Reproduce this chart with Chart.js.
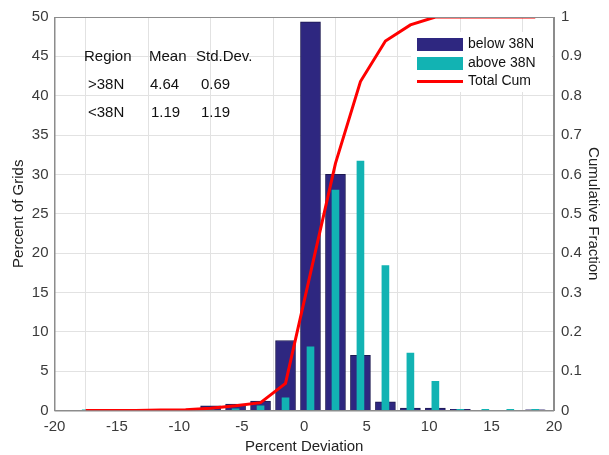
<!DOCTYPE html>
<html>
<head>
<meta charset="utf-8">
<script src="https://cdn.jsdelivr.net/npm/chart.js@4.4.0/dist/chart.umd.min.js"></script>
<style>
  html, body { margin: 0; padding: 0; background: #fff; }
  #wrap { width: 609px; height: 455px; position: relative; }
</style>
</head>
<body>
<div id="wrap"><canvas id="histChart" width="609" height="455"></canvas></div>
<script>
// Bin centres (percent deviation), 2-unit bins
const binCenters = [-19.5, -17.5, -15.5, -13.5, -11.5, -9.5, -7.5, -5.5, -3.5, -1.5,
                    0.5, 2.5, 4.5, 6.5, 8.5, 10.5, 12.5, 14.5, 16.5, 18.5];

// Percent of grids per bin
const below38N = [null, null, null, null, null, null, 0.6, 0.8, 1.2, 8.9,
                  49.4, 30.0, 7.0, 1.1, 0.3, 0.3, 0.15, null, null, 0.1];
const above38N = [null, 0.1, null, null, null, null, 0.1, 0.2, 0.6, 1.6,
                  8.1, 28.0, 31.7, 18.4, 7.3, 3.7, 0.15, 0.15, 0.15, 0.15];

// Total cumulative fraction
const cumX = [-17.5, -15.5, -13.5, -11.5, -9.5, -7.5, -5.5, -3.5, -1.5,
              0.5, 2.5, 4.5, 6.5, 8.5, 10.5, 12.5, 14.5, 16.5, 18.5];
const totalCum = [0, 0, 0, 0.001, 0.002, 0.006, 0.012, 0.02, 0.069,
                  0.349, 0.628, 0.836, 0.939, 0.98, 1.0, 1.0, 1.0, 1.0, 1.0];

const xTicks = [-20, -15, -10, -5, 0, 5, 10, 15, 20];

// Stats table text
const tableRows = [
    ['Region', 'Mean', 'Std.Dev.'],
    ['>38N', '4.64', '0.69'],
    ['<38N', '1.19', '1.19']
];

const FONT = "'Liberation Sans', Arial, Helvetica, sans-serif";
const gridColor = '#e2e2e2';
const axisColor = '#8c8c8c';
const tickColor = '#3a3a3a';

// Box around the plot + stats table + legend
const decorPlugin = {
    id: 'decor',
    afterDraw(chart) {
        const ctx = chart.ctx;
        const a = chart.chartArea;
        ctx.save();
        ctx.strokeStyle = axisColor;
        ctx.lineWidth = 1;
        ctx.strokeRect(a.left + 0.5, a.top + 0.5, a.right - a.left - 1, a.bottom - a.top);

        // stats table
        ctx.fillStyle = '#111';
        ctx.font = '15px ' + FONT;
        ctx.textBaseline = 'middle';
        const colX = [[84, 88, 88], [149, 150, 151], [196, 201, 201]];
        const rowY = [57, 85, 113];
        tableRows.forEach((row, r) => {
            row.forEach((txt, c) => ctx.fillText(txt, colX[c][r], rowY[r]));
        });

        // legend
        ctx.fillStyle = '#fff';
        ctx.fillRect(411, 32, 141, 60);
        const ys = [44.5, 63.5, 81.5];
        chart.data.datasets.forEach((ds) => {
            const y = ys[ds.legendOrder];
            if (ds.type === 'line') {
                ctx.strokeStyle = ds.borderColor;
                ctx.lineWidth = 3;
                ctx.beginPath();
                ctx.moveTo(417, y);
                ctx.lineTo(463, y);
                ctx.stroke();
            } else {
                ctx.fillStyle = ds.backgroundColor;
                ctx.fillRect(417, y - 6.5, 46, 13);
            }
            ctx.fillStyle = '#111';
            ctx.font = '14px ' + FONT;
            ctx.fillText(ds.label, 468, y);
        });
        ctx.restore();
    }
};

const ctx = document.getElementById('histChart').getContext('2d');
new Chart(ctx, {
    type: 'bar',
    data: {
        datasets: [
            {
                label: 'below 38N',
                legendOrder: 0,
                data: binCenters.map((x, i) => ({ x: x, y: below38N[i] })),
                backgroundColor: '#2e2780',
                borderColor: '#1c1850',
                borderWidth: 1,
                barThickness: 20,
                yAxisID: 'y',
                order: 3
            },
            {
                label: 'above 38N',
                legendOrder: 1,
                data: binCenters.map((x, i) => ({ x: x, y: above38N[i] })),
                backgroundColor: '#12b3b3',
                borderWidth: 0,
                barThickness: 7,
                yAxisID: 'y',
                order: 2
            },
            {
                type: 'line',
                label: 'Total Cum',
                legendOrder: 2,
                data: cumX.map((x, i) => ({ x: x, y: totalCum[i] })),
                borderColor: '#ff0000',
                borderWidth: 3,
                pointRadius: 0,
                tension: 0,
                fill: false,
                yAxisID: 'y1',
                order: 1
            }
        ]
    },
    options: {
        responsive: false,
        animation: false,
        grouped: false,
        layout: { padding: { top: 17, left: 0, right: 0, bottom: 0 } },
        plugins: {
            legend: { display: false },
            tooltip: { enabled: false }
        },
        scales: {
            x: {
                type: 'linear',
                min: -20,
                max: 20,
                offset: false,
                afterBuildTicks: (scale) => { scale.ticks = xTicks.map(v => ({ value: v })); },
                grid: { color: gridColor, drawTicks: false },
                border: { color: axisColor },
                ticks: { color: tickColor, font: { family: FONT, size: 15 }, padding: 7, maxRotation: 0 },
                title: { display: true, text: 'Percent Deviation', color: '#222',
                         font: { family: FONT, size: 15 }, padding: { top: 0, bottom: -1 } },
                afterFit: (scale) => { scale.height = 44.5; }
            },
            y: {
                position: 'left',
                min: 0,
                max: 50,
                grid: { color: gridColor, drawTicks: false },
                border: { color: axisColor },
                ticks: { stepSize: 5, color: tickColor, font: { family: FONT, size: 15 }, padding: 6 },
                title: { display: true, text: 'Percent of Grids', color: '#222',
                         font: { family: FONT, size: 15 }, padding: { top: 10, bottom: 0 } },
                afterFit: (scale) => { scale.width = 54.5; }
            },
            y1: {
                position: 'right',
                min: 0,
                max: 1,
                grid: { drawOnChartArea: false, drawTicks: false },
                border: { color: axisColor },
                ticks: { stepSize: 0.1, color: tickColor, font: { family: FONT, size: 15 }, padding: 7,
                         callback: (v) => Number(v.toFixed(1)).toString() },
                title: { display: true, text: 'Cumulative Fraction', color: '#222',
                         font: { family: FONT, size: 15 }, padding: { top: 7, bottom: 0 } },
                afterFit: (scale) => { scale.width = 55; }
            }
        }
    },
    plugins: [decorPlugin]
});
</script>
</body>
</html>
